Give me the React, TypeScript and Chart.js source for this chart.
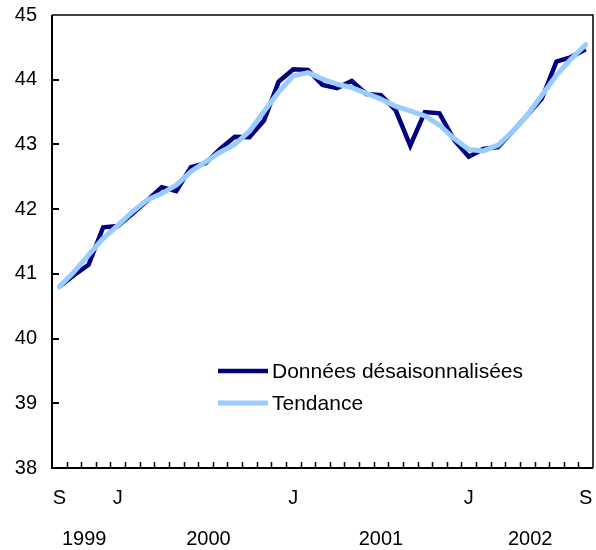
import React, { useEffect, useRef } from "react";
import { Chart, registerables } from "chart.js";

Chart.register(...registerables);

// Monthly categories, September 1999 to September 2002
const months = [
  "S", "O", "N", "D",
  "J", "F", "M", "A", "M", "J", "J", "A", "S", "O", "N", "D",
  "J", "F", "M", "A", "M", "J", "J", "A", "S", "O", "N", "D",
  "J", "F", "M", "A", "M", "J", "J", "A", "S",
];
const shownMonthIdx = [0, 4, 16, 28, 36];
const yearLabels = ["1999", "2000", "2001", "2002"];

const seasonallyAdjusted = [
  40.8, 40.98, 41.14, 41.72, 41.74, 41.93, 42.13, 42.34, 42.28, 42.65, 42.71, 42.93,
  43.12, 43.11, 43.37, 43.97, 44.16, 44.15, 43.92, 43.87, 43.98, 43.78, 43.76, 43.53,
  42.98, 43.5, 43.48, 43.07, 42.81, 42.93, 42.96, 43.2, 43.45, 43.71, 44.28, 44.35, 44.47,
];
const trend = [
  40.8, 41.03, 41.29, 41.55, 41.75, 41.96, 42.14, 42.24, 42.37, 42.58, 42.73, 42.88,
  43.0, 43.2, 43.51, 43.81, 44.06, 44.11, 44.01, 43.93, 43.88, 43.79, 43.7, 43.59,
  43.52, 43.44, 43.3, 43.09, 42.92, 42.9, 42.99, 43.2, 43.45, 43.76, 44.07, 44.32, 44.54,
];
const yTicks = [38, 39, 40, 41, 42, 43, 44, 45];

const FONT = "Liberation Sans, Arial, Helvetica, sans-serif";
// layout constant: where year captions sit along the month axis
const yearLabelPos = [1.7, 10.2, 22.0, 32.2];

const hiddenGap = (len: number) => ({
  display: true,
  drawOnChartArea: false,
  drawTicks: true,
  tickLength: len,
  tickColor: "rgba(0,0,0,0)",
  color: "rgba(0,0,0,0)",
});

const framePlugin = {
  id: "frame",
  afterDatasetsDraw(chart: any) {
    const { ctx, chartArea } = chart;
    const { left, right, top, bottom } = chartArea;
    const xs = chart.scales.x;
    const ys = chart.scales.y;
    ctx.save();
    ctx.strokeStyle = "#000";
    ctx.lineWidth = 1.5;
    ctx.beginPath();
    ctx.moveTo(left, top);
    ctx.lineTo(right, top);
    ctx.lineTo(right, bottom);
    ctx.stroke();
    ctx.lineWidth = 2;
    ctx.beginPath();
    ctx.moveTo(left, top);
    ctx.lineTo(left, bottom);
    ctx.lineTo(right, bottom);
    ctx.stroke();
    ctx.lineWidth = 1.5;
    ctx.beginPath();
    for (let i = 1; i < months.length; i++) {
      const x = Math.round((xs.getPixelForValue(i - 1) + xs.getPixelForValue(i)) / 2) + 0.5;
      ctx.moveTo(x, bottom);
      ctx.lineTo(x, bottom - 6);
    }
    ctx.stroke();
    ctx.lineWidth = 2;
    ctx.beginPath();
    for (const v of yTicks.slice(1, -1)) {
      const y = Math.round(ys.getPixelForValue(v));
      ctx.moveTo(left, y);
      ctx.lineTo(left + 7, y);
    }
    ctx.stroke();
    ctx.restore();
  },
  afterDraw(chart: any) {
    const { ctx } = chart;
    const entries = [
      { ds: chart.data.datasets[1], y: 371 },
      { ds: chart.data.datasets[0], y: 403 },
    ];
    ctx.save();
    ctx.font = `21px ${FONT}`;
    ctx.textBaseline = "middle";
    ctx.textAlign = "left";
    for (const e of entries) {
      ctx.strokeStyle = e.ds.borderColor;
      ctx.lineWidth = e.ds.borderWidth;
      ctx.beginPath();
      ctx.moveTo(218, e.y);
      ctx.lineTo(268, e.y);
      ctx.stroke();
      ctx.fillStyle = "#000";
      ctx.fillText(e.ds.label, 272, e.y + 1);
    }
    ctx.restore();
  },
};

export default function App() {
  const ref = useRef<HTMLCanvasElement | null>(null);
  useEffect(() => {
    if (!ref.current) return;
    const chart = new Chart(ref.current, {
      type: "line",
      data: {
        labels: months,
        datasets: [
          {
            label: "Tendance",
            data: trend,
            borderColor: "#99CCFF",
            backgroundColor: "#99CCFF",
            borderWidth: 5,
            pointRadius: 0,
            tension: 0,
            order: 1,
            borderJoinStyle: "round",
            borderCapStyle: "round",
          },
          {
            label: "Données désaisonnalisées",
            data: seasonallyAdjusted,
            borderColor: "#000080",
            backgroundColor: "#000080",
            borderWidth: 4.5,
            pointRadius: 0,
            tension: 0,
            order: 2,
          },
        ],
      },
      options: {
        animation: false,
        responsive: false,
        devicePixelRatio: 1,
        layout: { padding: { top: 15, right: 3, left: 0, bottom: 0 } },
        plugins: { legend: { display: false }, tooltip: { enabled: false } },
        scales: {
          x: {
            type: "category",
            position: "bottom",
            offset: true,
            grid: { ...hiddenGap(18), offset: true },
            border: { display: false },
            ticks: {
              autoSkip: false,
              maxRotation: 0,
              padding: 0,
              color: "#000",
              font: { size: 20, family: FONT },
              callback: (_v: any, idx: number) => (shownMonthIdx.includes(idx) ? months[idx] : ""),
            },
            afterFit: (s: any) => {
              s.height = 50;
            },
          },
          x2: {
            type: "linear",
            position: "bottom",
            min: -0.5,
            max: months.length - 0.5,
            grid: hiddenGap(9),
            border: { display: false },
            afterBuildTicks: (axis: any) => {
              axis.ticks = yearLabelPos.map((v) => ({ value: v }));
            },
            ticks: {
              autoSkip: false,
              maxRotation: 0,
              padding: 0,
              color: "#000",
              font: { size: 20, family: FONT },
              callback: (_v: any, idx: number) => yearLabels[idx],
            },
            afterFit: (s: any) => {
              s.height = 32;
            },
          },
          y: {
            type: "linear",
            min: yTicks[0],
            max: yTicks[yTicks.length - 1],
            grid: hiddenGap(15),
            border: { display: false },
            afterBuildTicks: (axis: any) => {
              axis.ticks = yTicks.map((v) => ({ value: v }));
            },
            ticks: {
              padding: 0,
              color: "#000",
              font: { size: 20, family: FONT },
              callback: (v: any) => String(v),
            },
            afterFit: (s: any) => {
              s.width = 52;
            },
          },
        },
      } as any,
      plugins: [framePlugin],
    });
    return () => chart.destroy();
  }, []);
  return (
    <div style={{ position: "absolute", left: 0, top: 0, width: 596, height: 550, background: "#fff" }}>
      <canvas ref={ref} width={596} height={550} style={{ display: "block", width: 596, height: 550 }} />
    </div>
  );
}
